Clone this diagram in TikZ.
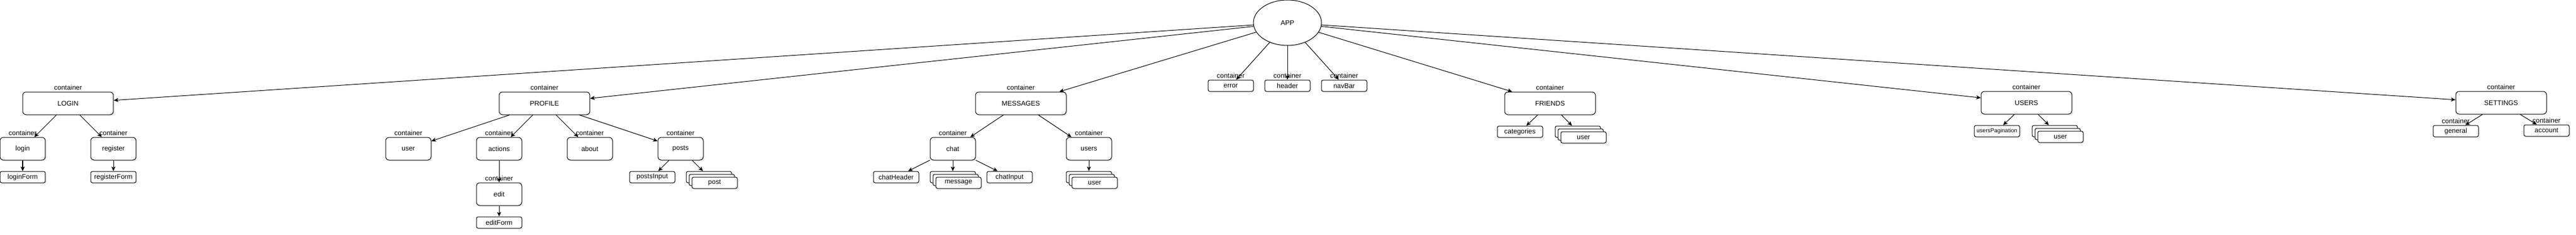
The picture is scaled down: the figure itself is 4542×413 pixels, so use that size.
\documentclass[tikz,border=0pt]{standalone}
\usepackage{fontspec}
\setmainfont{Liberation Sans}
\usetikzlibrary{arrows.meta, shadows, shapes.geometric}

\begin{document}
\begin{tikzpicture}[x=0.02cm, y=-0.02cm,
        every node/.style={font=\fontsize{6.8}{8}\selectfont},
        shade box/.style={drop shadow={shadow xshift=0.05cm, shadow yshift=-0.05cm, opacity=0.15}},
        box/.style={draw, fill=white, line width=0.57pt, rounded corners=0.12cm, minimum width=1.6cm, minimum height=0.8cm, inner sep=0pt, shade box},
        wide/.style={box, minimum width=3.2cm},
        leaf/.style={box, minimum height=0.4cm, rounded corners=0.06cm},
        cont/.style={label={[inner sep=0pt, label distance=0.06cm]above:container}},
        arr/.style={line width=0.57pt, -{Stealth[length=0.16cm, width=0.14cm, inset=0.04cm]}}]
        \useasboundingbox (0, 0) rectangle (4542, 413);

        \begin{scope}
            \node[draw, ellipse, fill=white, line width=0.57pt, minimum width=2.4cm, minimum height=1.6cm, inner sep=0pt, shade box] (app) at (2270, 40) {APP};
            \node[leaf, cont] (error) at (2170, 151) {error};
            \node[leaf, cont] (header) at (2270, 151) {header};
            \node[leaf, cont] (navbar) at (2370, 151) {navBar};
        \end{scope}

        \begin{scope}
            \node[wide, cont] (loginpage) at (120, 182) {LOGIN};
            \node[box, cont] (login) at (40, 262) {login};
            \node[box, cont] (register) at (200, 262) {register};
            \node[leaf] (loginform) at (40, 312) {loginForm};
            \node[leaf] (registerform) at (200, 312) {registerForm};
        \end{scope}

        \begin{scope}
            \node[wide, cont] (profile) at (960, 182) {PROFILE};
            \node[box, cont] (profileuser) at (720, 262) {user};
            \node[box, cont] (actions) at (880, 262) {actions};
            \node[box, cont] (about) at (1040, 262) {about};
            \node[box, cont] (posts) at (1200, 262) {posts};
            \node[box, cont] (edit) at (880, 342) {edit};
            \node[leaf] (editform) at (880, 392) {editForm};
            \node[leaf] (postsinput) at (1150, 312) {postsInput};
            \node[leaf] (posta) at (1250, 312) {};
            \node[leaf] (postb) at (1255, 317) {};
            \node[leaf] (post) at (1260, 322) {post};
        \end{scope}

        \begin{scope}
            \node[wide, cont] (messages) at (1800, 182) {MESSAGES};
            \node[box, cont] (chat) at (1680, 262) {chat};
            \node[box, cont] (users) at (1920, 262) {users};
            \node[leaf] (chatheader) at (1580, 312) {chatHeader};
            \node[leaf] (messagea) at (1680, 312) {};
            \node[leaf] (messageb) at (1685, 317) {};
            \node[leaf] (message) at (1690, 322) {message};
            \node[leaf] (chatinput) at (1780, 312) {chatInput};
            \node[leaf] (chatusera) at (1920, 312) {};
            \node[leaf] (chatuserb) at (1925, 317) {};
            \node[leaf] (chatuser) at (1930, 322) {user};
        \end{scope}

        \begin{scope}
            \node[wide, cont] (friends) at (2733, 182) {FRIENDS};
            \node[leaf] (categories) at (2680, 232) {categories};
            \node[leaf] (frienda) at (2782, 232) {};
            \node[leaf] (friendb) at (2787, 237) {};
            \node[leaf] (friend) at (2792, 242) {user};
        \end{scope}

        \begin{scope}
            \node[wide, cont] (userspage) at (3573, 181) {USERS};
            \node[leaf, font=\fontsize{5.7}{7}\selectfont] (pagination) at (3521, 231) {usersPagination};
            \node[leaf] (usera) at (3623, 231) {};
            \node[leaf] (userb) at (3628, 236) {};
            \node[leaf] (user) at (3633, 241) {user};
        \end{scope}

        \begin{scope}
            \node[wide, cont] (settings) at (4410, 181) {SETTINGS};
            \node[leaf, cont] (general) at (4330, 231) {general};
            \node[leaf, cont] (account) at (4490, 230) {account};
        \end{scope}

        \draw[arr] (app) -- (loginpage);
        \draw[arr] (app) -- (profile);
        \draw[arr] (app) -- (messages);
        \draw[arr] (app) -- (error);
        \draw[arr] (app) -- (header);
        \draw[arr] (app) -- (navbar);
        \draw[arr] (app) -- (friends);
        \draw[arr] (app) -- (userspage);
        \draw[arr] (app) -- (settings);

        \draw[arr] (loginpage) -- (login);
        \draw[arr] (loginpage) -- (register);
        \draw[arr] (login) -- (loginform);
        \draw[arr] (register) -- (registerform);

        \draw[arr] (profile) -- (profileuser);
        \draw[arr] (profile) -- (actions);
        \draw[arr] (profile) -- (about);
        \draw[arr] (profile) -- (posts);
        \draw[arr] (actions) -- (edit);
        \draw[arr] (edit) -- (editform);
        \draw[arr] (posts) -- (postsinput);
        \draw[arr] (posts) -- (posta);

        \draw[arr] (messages) -- (chat);
        \draw[arr] (messages) -- (users);
        \draw[arr] (chat) -- (chatheader);
        \draw[arr] (chat) -- (messagea);
        \draw[arr] (chat) -- (chatinput);
        \draw[arr] (users) -- (chatusera);

        \draw[arr] (friends) -- (categories);
        \draw[arr] (friends) -- (frienda);
        \draw[arr] (userspage) -- (pagination);
        \draw[arr] (userspage) -- (usera);
        \draw[arr] (settings) -- (general);
        \draw[arr] (settings) -- (account);
    \end{tikzpicture}
\end{document}
